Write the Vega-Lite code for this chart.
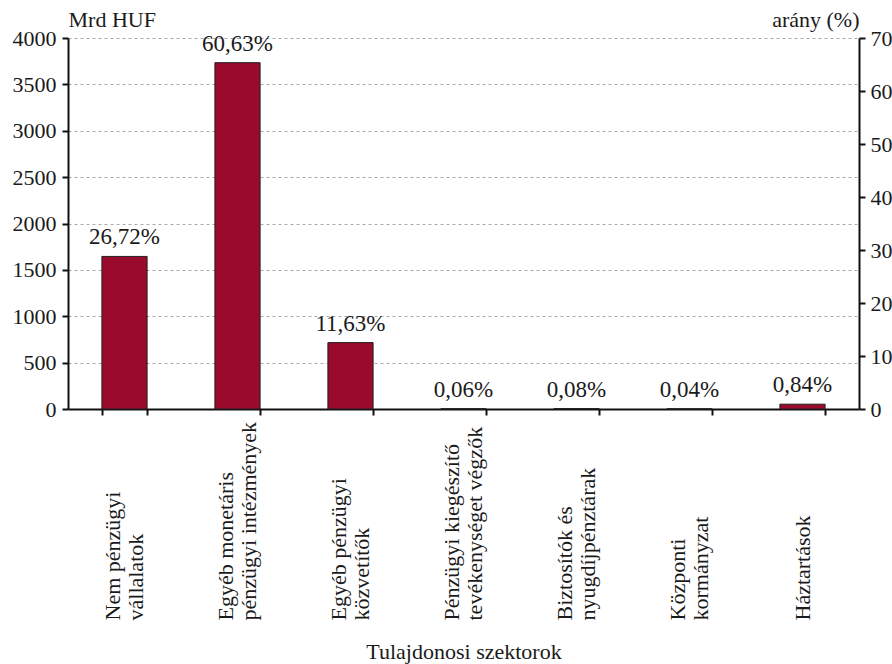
{
  "$schema": "https://vega.github.io/schema/vega-lite/v6.json",
  "autosize": {"type": "none"},
  "padding": {"left": 68, "top": 38, "right": 33, "bottom": 255},
  "width": 791,
  "height": 371,
  "background": "white",
  "config": {
    "font": "Liberation Serif",
    "view": {"stroke": null},
    "axis": {
      "labelFont": "Liberation Serif",
      "titleFont": "Liberation Serif",
      "labelFontSize": 22,
      "titleFontSize": 22,
      "labelColor": "#1a1a1a",
      "titleColor": "#1a1a1a",
      "titleFontWeight": "normal",
      "domainColor": "#111111",
      "domainWidth": 2,
      "tickColor": "#111111",
      "tickWidth": 2,
      "tickSize": 6
    }
  },
  "data": {
    "values": [
      {"sector": "Nem pénzügyi|vállalatok", "value": 1645, "pct": 26.72, "label": "26,72%"},
      {"sector": "Egyéb monetáris|pénzügyi intézmények", "value": 3734, "pct": 60.63, "label": "60,63%"},
      {"sector": "Egyéb pénzügyi|közvetítők", "value": 716, "pct": 11.63, "label": "11,63%"},
      {"sector": "Pénzügyi kiegészítő|tevékenységet végzők", "value": 3.7, "pct": 0.06, "label": "0,06%"},
      {"sector": "Biztosítók és|nyugdíjpénztárak", "value": 4.9, "pct": 0.08, "label": "0,08%"},
      {"sector": "Központi|kormányzat", "value": 2.5, "pct": 0.04, "label": "0,04%"},
      {"sector": "Háztartások", "value": 52, "pct": 0.84, "label": "0,84%"}
    ]
  },
  "encoding": {
    "x": {
      "field": "sector",
      "type": "nominal",
      "sort": null,
      "scale": {"paddingInner": 0.6, "paddingOuter": 0.3},
      "axis": {
        "title": "Tulajdonosi szektorok",
        "titleY": 249,
        "titleBaseline": "alphabetic",
        "labelAngle": -90,
        "labelAlign": "left",
        "labelBaseline": {"condition": {"test": "indexof(datum.label, '|') >= 0", "value": "line-bottom"}, "value": "middle"},
        "labelPadding": 205,
        "labelLineHeight": 23,
        "labelExpr": "split(datum.label, '|')",
        "tickBand": "extent",
        "labelLimit": 300
      }
    }
  },
  "layer": [
    {
      "mark": {"type": "bar", "color": "#990a2c", "stroke": "#222222", "strokeWidth": 1},
      "encoding": {
        "y": {
          "field": "value",
          "type": "quantitative",
          "scale": {"domain": [0, 4000], "nice": false},
          "axis": {
            "values": [0, 500, 1000, 1500, 2000, 2500, 3000, 3500, 4000],
            "format": "d",
            "title": "Mrd HUF",
            "titleAngle": 0,
            "titleX": 0,
            "titleY": -12,
            "titleAlign": "left",
            "titleBaseline": "alphabetic",
            "labelPadding": 6,
            "grid": true,
            "gridColor": "#aaaaaa",
            "gridDash": [3, 3],
            "gridWidth": 1
          }
        }
      }
    },
    {
      "mark": {"type": "text", "fontSize": 23, "baseline": "alphabetic", "dy": -12, "color": "#1a1a1a"},
      "encoding": {
        "y": {"field": "value", "type": "quantitative", "scale": {"domain": [0, 4000], "nice": false}, "axis": null},
        "text": {"field": "label", "type": "nominal"}
      }
    },
    {
      "mark": {"type": "point", "opacity": 0},
      "encoding": {
        "y": {
          "field": "pct",
          "type": "quantitative",
          "scale": {"domain": [0, 70], "nice": false},
          "axis": {
            "orient": "right",
            "values": [0, 10, 20, 30, 40, 50, 60, 70],
            "format": "d",
            "title": "arány (%)",
            "titleAngle": 0,
            "titleX": 0,
            "titleY": -12,
            "titleAlign": "right",
            "titleBaseline": "alphabetic",
            "labelPadding": 5,
            "grid": false
          }
        }
      }
    }
  ],
  "resolve": {"scale": {"y": "independent"}}
}
